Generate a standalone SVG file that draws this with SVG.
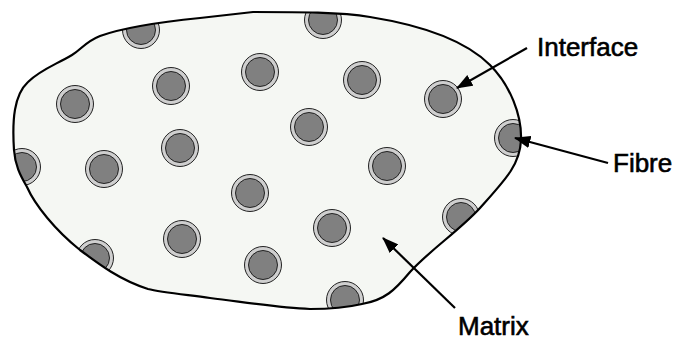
<svg xmlns="http://www.w3.org/2000/svg" width="674" height="340" viewBox="0 0 674 340">
<style>
.ring{fill:#cfcfcf;stroke:#222;stroke-width:1}
.core{fill:#808080;stroke:#222;stroke-width:1}
.lbl{font-family:"Liberation Sans",Arial,sans-serif;font-size:26px;fill:#000;stroke:#000;stroke-width:0.6}
.arr{stroke:#000;stroke-width:2.2;fill:none;marker-end:url(#ah)}
</style>
<defs>
<path id="blobPath" d="M14,150 C12,120 14,95 28,82 C40,70 55,65 72,55 C82,49 85,42 100,36 C125,27 160,22 200,18 L253,12 C300,12 340,12 370,17 C420,25 465,40 490,65 C510,85 522,115 521,140 C520,165 505,180 480,208 C460,230 430,250 410,272 C395,290 385,300 362,304 C345,308 330,309 310,309 C280,308 250,303 210,298 C180,294 160,292 148,289 C120,280 100,265 80,250 C55,230 35,205 27,187 C20,175 15,165 14,150 Z"/>
<clipPath id="clip"><use href="#blobPath"/></clipPath>
<marker id="ah" viewBox="0 0 16 12" refX="15" refY="6" markerWidth="7.5" markerHeight="5.6" markerUnits="strokeWidth" orient="auto">
<path d="M0,0 L16,6 L0,12 Z" fill="#000"/>
</marker>
<g id="fib"><circle class="ring" r="18.5"/><circle class="core" r="14.5"/></g>
</defs>
<g id="matrix">
<use href="#blobPath" fill="#f5f7f3"/>
</g>
<g id="fibres" clip-path="url(#clip)">
<use id="f1" href="#fib" x="141" y="30"/>
<use id="f2" href="#fib" x="323" y="20"/>
<use id="f3" href="#fib" x="171" y="86"/>
<use id="f4" href="#fib" x="260" y="72"/>
<use id="f5" href="#fib" x="362" y="80"/>
<use id="f6" href="#fib" x="75" y="104"/>
<use id="f7" href="#fib" x="443" y="99"/>
<use id="f8" href="#fib" x="309" y="127"/>
<use id="f9" href="#fib" x="180" y="148"/>
<use id="f10" href="#fib" x="513" y="138"/>
<use id="f11" href="#fib" x="22" y="167"/>
<use id="f12" href="#fib" x="104" y="169"/>
<use id="f13" href="#fib" x="387" y="166"/>
<use id="f14" href="#fib" x="250" y="193"/>
<use id="f15" href="#fib" x="461" y="217"/>
<use id="f16" href="#fib" x="332" y="228"/>
<use id="f17" href="#fib" x="182" y="239"/>
<use id="f18" href="#fib" x="95" y="258"/>
<use id="f19" href="#fib" x="263" y="265"/>
<use id="f20" href="#fib" x="345" y="300"/>
</g>
<g id="outline">
<use href="#blobPath" fill="none" stroke="#000" stroke-width="2.2"/>
</g>
<g id="connectors">
<line class="arr" x1="527" y1="48" x2="457" y2="88"/>
<line class="arr" x1="608" y1="163" x2="515" y2="138"/>
<line class="arr" x1="455" y1="308" x2="383" y2="238"/>
</g>
<g id="label-interface"><text class="lbl" x="537" y="56">Interface</text></g>
<g id="label-fibre"><text class="lbl" x="613" y="172">Fibre</text></g>
<g id="label-matrix"><text class="lbl" x="458" y="335">Matrix</text></g>
</svg>
